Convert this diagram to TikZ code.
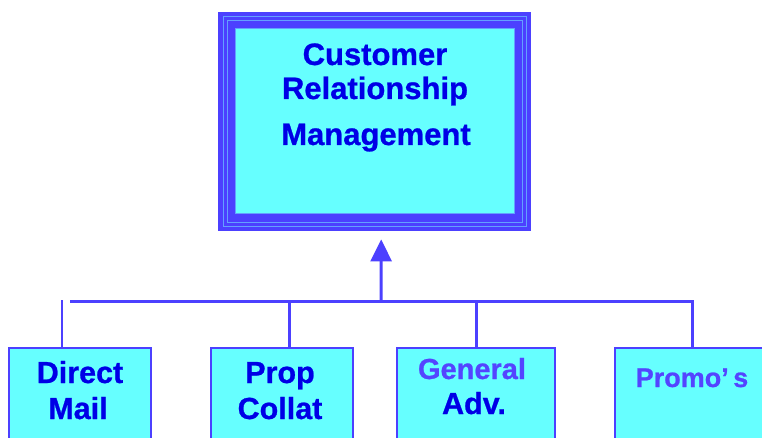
\documentclass[tikz,border=0pt]{standalone}
\usepackage{fontspec}
\setmainfont{Liberation Sans}[BoldFeatures={FakeBold=0.8}]
\usepackage{xcolor}
\usepackage{tikz}
\usetikzlibrary{calc}
\usetikzlibrary{arrows.meta}

\definecolor{frameblue}{RGB}{76,64,255}
\definecolor{frameline}{RGB}{100,160,255}
\definecolor{boxcyan}{RGB}{102,255,255}
\definecolor{textblue}{RGB}{0,0,230}
\definecolor{textviolet}{RGB}{84,68,255}

\begin{document}
\begin{tikzpicture}[x=1pt,y=-1pt]
    \tikzstyle{frame}=[rectangle,fill=frameblue,draw=none,minimum width=313pt,minimum height=219pt,anchor=north west,inner sep=0pt]
    \tikzstyle{frame line}=[draw=frameline,line width=1pt]
    \tikzstyle{inner panel}=[fill=boxcyan,draw=frameline,line width=1pt]
    \tikzstyle{channel}=[rectangle,fill=boxcyan,draw=frameblue,line width=1.5pt,minimum height=130pt,anchor=north west,inner sep=0pt]
    \tikzstyle{link}=[line width=3pt,color=frameblue]
    \tikzstyle{stub}=[line width=2pt,color=frameblue]
    \tikzstyle{uplink}=[-{Triangle[length=22pt,width=21pt]},line width=3pt,color=frameblue]
    \tikzstyle{title text}=[textblue,inner sep=0pt,anchor=base,font=\fontsize{30.5}{36}\bfseries\selectfont]
    \tikzstyle{soft text}=[textviolet,inner sep=0pt,anchor=base,font=\fontsize{29}{34}\bfseries\selectfont]

    \useasboundingbox (0,0) rectangle (762,438);
    \clip (0,0) rectangle (762,438);

    % Top box
    \node[style=frame] (crm) at (218,12) {};
    \draw[style=frame line] ($(crm.north west)+(5,5)$) rectangle ($(crm.south east)+(-5,-5)$);
    \draw[style=frame line] ($(crm.north west)+(9,9)$) rectangle ($(crm.south east)+(-9,-9)$);
    \fill[style=inner panel] ($(crm.north west)+(17,17)$) rectangle ($(crm.south east)+(-17,-18)$);
    \node[style=title text,font=\fontsize{31}{36}\bfseries\selectfont] (customer) at (375,65) {Customer};
    \node[style=title text,font=\fontsize{31}{36}\bfseries\selectfont] (relation) at (375,99) {Relationship};
    \node[style=title text,font=\fontsize{31}{36}\bfseries\selectfont] (manage) at (376,145) {Management};

    % Channels
    \node[style=channel,minimum width=142pt] (mail) at (8,347) {};
    \node[style=channel,minimum width=142pt] (prop) at (210,347) {};
    \node[style=channel,minimum width=158pt] (adv) at (396,347) {};
    \node[style=channel,minimum width=156pt] (promo) at (614,347) {};

    \node[style=title text] (direct) at (80,383) {Direct};
    \node[style=title text] (mailtxt) at (78,419) {Mail};
    \node[style=title text] (proptxt) at (280,383) {Prop};
    \node[style=title text] (collat) at (280,419) {Collat};
    \node[style=soft text] (general) at (472,379) {General};
    \node[style=title text] (advtxt) at (474,414) {Adv.};
    \node[style=soft text,font=\fontsize{27}{32}\bfseries\selectfont] (promotxt) at (692,387) {Promo’\,s};

    % Bus
    \coordinate (busL) at (70,301);
    \coordinate (busC) at (381,301);
    \coordinate (dropP) at (289,301);
    \coordinate (dropA) at (476,301);
    \coordinate (dropR) at (692,301);
    \coordinate (stubTop) at (62,300);
    \coordinate (tip) at ($(crm.south)+(6.5,8)$);

    \draw[style=link] (busL) -- (dropR) -- (dropR |- promo.north);
    \draw[style=link] (dropP) -- (dropP |- prop.north);
    \draw[style=link] (dropA) -- (dropA |- adv.north);
    \draw[style=stub] (stubTop) -- (stubTop |- mail.north);
    \draw[style=uplink] (busC) -- (tip);

\end{tikzpicture}
\end{document}
